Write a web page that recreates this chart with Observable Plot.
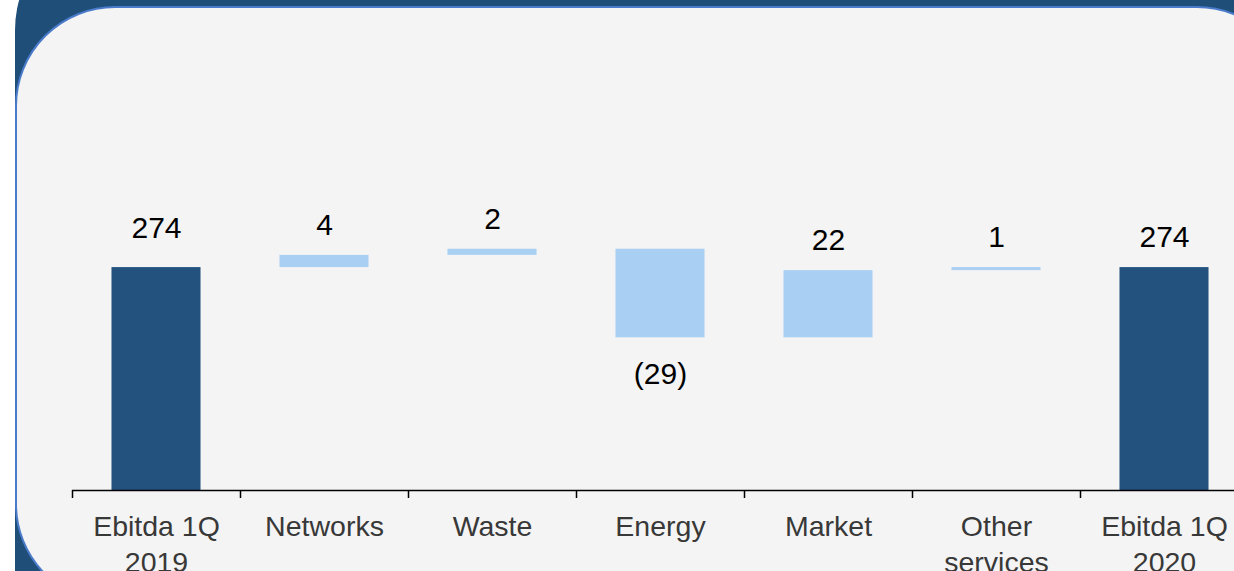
<!DOCTYPE html>
<html><head><meta charset="utf-8">
<script src="https://cdn.jsdelivr.net/npm/d3@7"></script>
<script src="https://cdn.jsdelivr.net/npm/@observablehq/plot@0.6"></script>
<style>
html,body{margin:0;padding:0;background:#fff;overflow:hidden;}
#wrap{position:relative;width:1234px;height:571px;overflow:hidden;}
#outer{position:absolute;left:15px;top:-80px;width:1400px;height:800px;background:#1f4e79;border-radius:110px;}
#panel{position:absolute;left:15px;top:6px;width:1282px;height:598px;background:#f4f4f4;border:2px solid #4a7bcb;border-radius:100px;box-sizing:border-box;}
#chart{position:absolute;left:0;top:0;width:1250px;height:571px;}
#chart svg{max-width:none !important;width:1250px;height:571px;}
</style></head>
<body><div id="wrap"><div id="outer"></div><div id="panel"></div><div id="chart"></div></div>
<script>
const categories = ["Ebitda 1Q\n2019", "Networks", "Waste", "Energy", "Market", "Other\nservices", "Ebitda 1Q\n2020"];
const values = [274, 4, 2, -29, 22, 1, 274];
const isTotal = [true, false, false, false, false, false, true];
const valueLabels = ["274", "4", "2", "(29)", "22", "1", "274"];

let run = 0;
const data = categories.map((cat, i) => {
  let y1, y2;
  if (isTotal[i]) { y1 = 201; y2 = values[i]; run = values[i]; }
  else { y1 = run; y2 = run + values[i]; run = y2; }
  return {cat, i, y1, y2, total: isTotal[i], label: valueLabels[i], neg: values[i] < 0,
          top: Math.max(y1, y2), bottom: Math.min(y1, y2)};
});

const W = 1250, ML = 72, MR = 2;
const step = (W - ML - MR) / categories.length;
const font = "'Liberation Sans', Arial, Helvetica, sans-serif";

const chart = Plot.plot({
  width: W, height: 571,
  marginLeft: ML, marginRight: MR, marginTop: 35, marginBottom: 81,
  style: {background: "transparent", fontFamily: font, overflow: "visible", maxWidth: "none"},
  x: {domain: categories, paddingInner: 0.47, paddingOuter: 0.235, round: false, label: null},
  y: {domain: [201, 350], axis: null},
  marks: [
    Plot.barY(data.filter(d => d.total), {x: "cat", y1: "y1", y2: "y2", fill: "#23527f"}),
    Plot.barY(data.filter(d => !d.total), {x: "cat", y1: "y1", y2: "y2", fill: "#a9cff3"}),
    Plot.ruleY([201], {stroke: "#000", strokeWidth: 1.3}),
    Plot.axisX({tickSize: 8, dx: -step / 2, tickFormat: () => "", stroke: "#000", strokeWidth: 1.5, label: null}),
    Plot.axisX({tickSize: 0, tickPadding: 20, fontSize: 28.5, lineHeight: 1.26, fill: "#383838", label: null}),
    Plot.text(data.filter(d => !d.neg && d.i === 0), {x: "cat", y: "top", text: "label", dy: -39, fontSize: 30, fill: "#000"}),
    Plot.text(data.filter(d => !d.neg && d.i !== 0), {x: "cat", y: "top", text: "label", dy: -30, fontSize: 30, fill: "#000"}),
    Plot.text(data.filter(d => d.neg), {x: "cat", y: "bottom", text: "label", dy: 37, fontSize: 30, fill: "#000"})
  ]
});
document.getElementById("chart").appendChild(chart);
</script>
</body></html>
